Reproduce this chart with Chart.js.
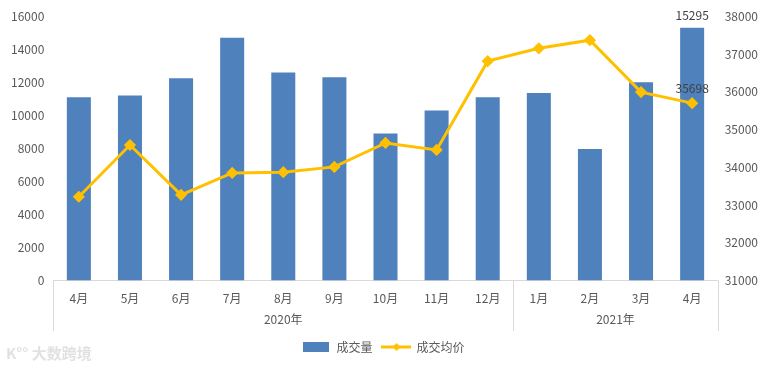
<!DOCTYPE html>
<html>
<head>
<meta charset="utf-8">
<script src="https://cdn.jsdelivr.net/npm/chart.js@4"></script>
<style>
  html, body { margin: 0; padding: 0; background: #fff; }
  #wrap { width: 769px; height: 369px; position: relative; }
</style>
</head>
<body>
<div id="wrap"><canvas id="graficoVendas"></canvas></div>
<script>
// =========================
// DADOS
// =========================

const meses = ['4月', '5月', '6月', '7月', '8月', '9月', '10月', '11月', '12月', '1月', '2月', '3月', '4月'];
const anos = [
    { label: '2020年', from: 0, to: 8 },
    { label: '2021年', from: 9, to: 12 }
];
const volume = [11100, 11200, 12250, 14700, 12600, 12300, 8900, 10300, 11100, 11350, 7970, 12000, 15295];
const precoMedio = [33220, 34590, 33270, 33850, 33870, 34010, 34645, 34460, 36810, 37150, 37365, 35990, 35698];

const AZUL = '#4f81bd';
const AMARELO = '#ffc000';
const CINZA = '#595959';
const LINHA = '#d9d9d9';
const FONTE = '"Noto Sans CJK SC", "Noto Sans", sans-serif';

// swatches da legenda
function swatchBarra() {
    const c = document.createElement('canvas');
    c.width = 26; c.height = 10;
    const g = c.getContext('2d');
    g.fillStyle = AZUL;
    g.fillRect(0, 0, 26, 10);
    return c;
}

function swatchLinha() {
    const c = document.createElement('canvas');
    c.width = 30; c.height = 10;
    const g = c.getContext('2d');
    g.strokeStyle = AMARELO;
    g.lineWidth = 3;
    g.beginPath(); g.moveTo(0, 5); g.lineTo(30, 5); g.stroke();
    g.fillStyle = AMARELO;
    g.beginPath(); g.moveTo(15, 1); g.lineTo(19, 5); g.lineTo(15, 9); g.lineTo(11, 5); g.closePath(); g.fill();
    return c;
}

// =========================
// PLUGIN: anos, rótulos, marca d'água
// =========================

const extras = {
    id: 'extras',
    afterDraw(chart) {
        const ctx = chart.ctx;
        const x = chart.scales.x;
        const half = (x.getPixelForValue(1) - x.getPixelForValue(0)) / 2;
        ctx.save();

        // separadores e anos
        ctx.strokeStyle = LINHA;
        ctx.lineWidth = 1;
        ctx.fillStyle = CINZA;
        ctx.font = '12px ' + FONTE;
        ctx.textAlign = 'center';
        ctx.textBaseline = 'middle';
        anos.forEach((a) => {
            const x0 = x.getPixelForValue(a.from) - half;
            const x1 = x.getPixelForValue(a.to) + half;
            [x0, x1].forEach(px => {
                ctx.beginPath();
                ctx.moveTo(Math.round(px) + 0.5, x.top);
                ctx.lineTo(Math.round(px) + 0.5, x.bottom);
                ctx.stroke();
            });
            ctx.fillText(a.label, (x0 + x1) / 2, x.bottom - 12);
        });

        // rótulos do último mês
        const ultimo = meses.length - 1;
        const barra = chart.getDatasetMeta(0).data[ultimo];
        const ponto = chart.getDatasetMeta(1).data[ultimo];
        ctx.fillStyle = '#404040';
        ctx.textBaseline = 'bottom';
        ctx.fillText(String(volume[ultimo]), barra.x, barra.y - 6);
        ctx.fillText(String(precoMedio[ultimo]), ponto.x, ponto.y - 9);

        // marca d'água
        ctx.fillStyle = 'rgba(205,205,205,0.6)';
        ctx.font = 'bold 15px ' + FONTE;
        ctx.textAlign = 'left';
        ctx.textBaseline = 'middle';
        ctx.fillText('K°° 大数跨境', 6, 353);

        ctx.restore();
    }
};

// =========================
// GRÁFICO
// =========================

const graficoVendas = document.getElementById('graficoVendas');

if (graficoVendas) {

    const ctxVendas = graficoVendas.getContext('2d');
    const imgBarra = swatchBarra();
    const imgLinha = swatchLinha();

    new Chart(ctxVendas, {
        type: 'bar',
        data: {
            labels: meses,
            datasets: [
                {
                    type: 'bar',
                    label: '成交量',
                    data: volume,
                    backgroundColor: AZUL,
                    barPercentage: 0.47,
                    categoryPercentage: 1,
                    yAxisID: 'y',
                    order: 2
                },
                {
                    type: 'line',
                    label: '成交均价',
                    data: precoMedio,
                    borderColor: AMARELO,
                    backgroundColor: AMARELO,
                    borderWidth: 3,
                    tension: 0,
                    pointStyle: 'rectRot',
                    pointRadius: 4,
                    yAxisID: 'y1',
                    order: 1
                }
            ]
        },
        options: {
            responsive: true,
            maintainAspectRatio: false,
            animation: false,
            layout: {
                padding: { top: 6, left: 2, right: 4, bottom: 6 }
            },
            scales: {
                x: {
                    grid: { display: false },
                    border: { color: LINHA },
                    ticks: {
                        color: CINZA,
                        font: { family: FONTE, size: 12 },
                        padding: 3
                    },
                    afterFit: (scale) => { scale.height += 22; }
                },
                y: {
                    position: 'left',
                    min: 0,
                    max: 16000,
                    grid: { display: false, drawTicks: false },
                    border: { display: false },
                    ticks: {
                        stepSize: 2000,
                        color: CINZA,
                        font: { family: FONTE, size: 12 },
                        padding: 9,
                        callback: (value) => String(value)
                    }
                },
                y1: {
                    position: 'right',
                    min: 31000,
                    max: 38000,
                    grid: { display: false, drawTicks: false },
                    border: { display: false },
                    ticks: {
                        stepSize: 1000,
                        color: CINZA,
                        font: { family: FONTE, size: 12 },
                        padding: 7,
                        callback: (value) => String(value)
                    }
                }
            },
            plugins: {
                legend: {
                    display: true,
                    position: 'bottom',
                    labels: {
                        usePointStyle: true,
                        pointStyleWidth: 28,
                        padding: 10,
                        color: CINZA,
                        font: { family: FONTE, size: 12 },
                        generateLabels: (chart) => chart.data.datasets.map((ds, i) => ({
                            text: ds.label,
                            pointStyle: i === 0 ? imgBarra : imgLinha,
                            fillStyle: ds.backgroundColor,
                            strokeStyle: ds.backgroundColor,
                            lineWidth: 0,
                            fontColor: CINZA,
                            hidden: false,
                            datasetIndex: i
                        }))
                    }
                },
                tooltip: { enabled: false }
            }
        },
        plugins: [extras]
    });
}
</script>
</body>
</html>
